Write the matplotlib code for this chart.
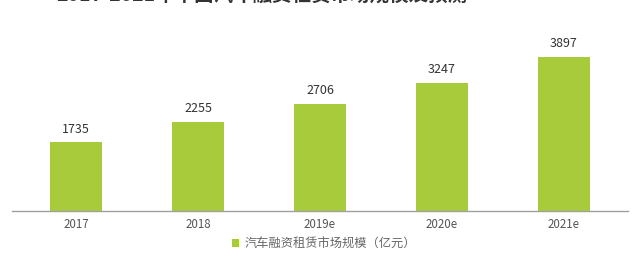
import matplotlib.pyplot as plt

plt.rcParams['font.family'] = ['Noto Sans CJK SC', 'DejaVu Sans']

years = ['2017', '2018', '2019e', '2020e', '2021e']
market_size = [1735, 2255, 2706, 3247, 3897]
series_name = '汽车融资租赁市场规模（亿元）'
title = '2017-2021年中国汽车融资租赁市场规模及预测'

green = '#a8cb3c'

fig = plt.figure(figsize=(6.4, 2.64), dpi=100)
ax = fig.add_axes([12 / 640, 53 / 264, 616 / 640, 181 / 264])

x = range(len(years))
bars = ax.bar(x, market_size, width=0.43, color=green, label=series_name)

for i, v in enumerate(market_size):
    ax.annotate(str(v), (i, v), xytext=(0, 5), textcoords='offset points',
                ha='center', va='bottom', fontsize=9, color='#333333')

ax.set_xlim(-0.525, 4.525)
ax.set_ylim(0, 4582)
ax.set_xticks(list(x))
ax.set_xticklabels(years, fontsize=8.3, color='#555555')
ax.tick_params(axis='x', length=0, pad=5)
ax.set_yticks([])
for side in ['top', 'right', 'left']:
    ax.spines[side].set_visible(False)
ax.spines['bottom'].set_color('#a0a0a0')
ax.spines['bottom'].set_linewidth(1.0)

fig.legend(handles=[bars], labels=[series_name], loc='center',
           bbox_to_anchor=(324 / 640, 20 / 264), frameon=False,
           fontsize=8.8, handlelength=0.6, handleheight=0.6,
           handletextpad=0.4, labelcolor='#666666')

fig.text(262 / 640, 1 + 5 / 264, title, ha='center', va='center',
         fontsize=14, fontweight='bold', color='#333333')

fig.savefig('out.png', dpi=100)
